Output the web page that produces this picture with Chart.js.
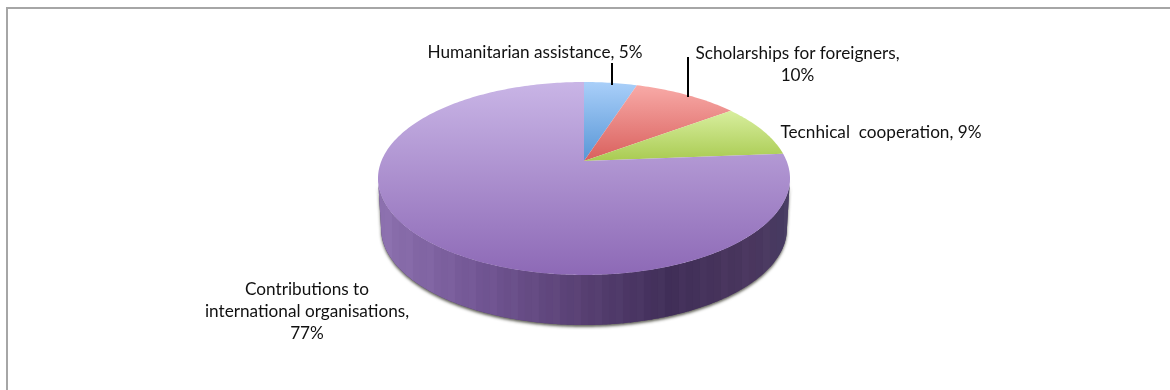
<!DOCTYPE html>
<html>
<head>
<meta charset="utf-8">
<style>
  html, body { margin: 0; padding: 0; background: #fff; overflow: hidden; }
  canvas { display: block; }
</style>
<script src="https://cdn.jsdelivr.net/npm/chart.js@4"></script>
</head>
<body>
<canvas id="c" width="1170" height="390"></canvas>
<script>
// Shares of development aid, percent
const categories = [
  'Humanitarian assistance',
  'Scholarships for foreigners',
  'Tecnhical  cooperation',
  'Contributions to international organisations'
];
const shares = [5, 10, 9, 77];
const sliceTop = ['#a9cff9', '#f8aaa7', '#d8ee9e', '#c9b5e6'];
const sliceBottom = ['#5896d6', '#d9605d', '#a9cb52', '#8d69b6'];
const labelLines = [
  ['Humanitarian assistance, 5%'],
  ['Scholarships for foreigners,', '10%'],
  ['Tecnhical  cooperation, 9%'],
  ['Contributions to', 'international organisations,', '77%']
];
const labelCentres = [[535, 52], [797.5, 53], [881, 132], [307, 289]];
const labelLineGap = 22;
const leaderLines = [[[612, 63], [612, 85]], [[688, 57], [688, 97]]];

// Tilted disc: projects a unit circle onto the page with mild perspective
const disc = { x: 584, apex: 161, spanX: 202.6, spanY: -64.13, persp: 0.1813, depth: 50, baseScale: 0.985 };
function project(angle) {
  const u = Math.cos(angle), v = -Math.sin(angle);
  const w = 1 + disc.persp * v;
  return [disc.x + disc.spanX * u / w, (disc.apex + disc.spanY * v) / w];
}
function projectBase(angle) {
  const p = project(angle);
  return [disc.x + (p[0] - disc.x) * disc.baseScale, p[1] + disc.depth];
}

function wallShade(t) {
  // t runs 0..1 from the left rim to the right rim of the wall
  const stops = [[0, [140, 112, 174]], [0.25, [112, 84, 146]], [0.5, [86, 62, 112]], [0.7, [64, 46, 88]], [0.9, [74, 54, 94]], [1, [70, 60, 98]]];
  for (let i = 1; i < stops.length; i++) {
    if (t <= stops[i][0]) {
      const k = (t - stops[i - 1][0]) / (stops[i][0] - stops[i - 1][0]);
      return stops[i - 1][1].map((c, j) => Math.round(c + (stops[i][1][j] - c) * k));
    }
  }
  return stops[stops.length - 1][1];
}

const tiltedPie = {
  id: 'tiltedPie',
  beforeDatasetsDraw(chart) {
    const ctx = chart.ctx;
    const arcs = chart.getDatasetMeta(0).data;
    const steps = 360;

    // visible wall: front half of the top rim, back along the base rim
    const from = Math.asin(disc.persp);
    const to = Math.PI - from;
    const wall = new Path2D();
    for (let i = 0; i <= steps; i++) {
      const p = project(from + (to - from) * i / steps);
      i ? wall.lineTo(p[0], p[1]) : wall.moveTo(p[0], p[1]);
    }
    for (let i = steps; i >= 0; i--) {
      const p = projectBase(from + (to - from) * i / steps);
      wall.lineTo(p[0], p[1]);
    }
    wall.closePath();

    const left = project(Math.PI - from)[0];
    const right = project(from)[0];

    // soft shadow cast by the wall
    ctx.save();
    ctx.shadowColor = 'rgba(60,60,50,0.8)';
    ctx.shadowBlur = 3;
    ctx.shadowOffsetX = 0;
    ctx.shadowOffsetY = 2;
    ctx.fillStyle = '#5a4a70';
    ctx.fill(wall);
    ctx.restore();

    // banded shading, in narrow vertical strips
    ctx.save();
    ctx.clip(wall);
    const strip = 7;
    for (let x = left; x < right; x += strip) {
      const c = wallShade((x - left) / (right - left));
      const bump = Math.floor(x / strip) % 3 === 0 ? 3 : 0;
      ctx.fillStyle = `rgb(${c[0] + bump},${c[1] + bump},${c[2] + bump})`;
      ctx.fillRect(x, 150, strip + 0.5, 190);
    }
    ctx.restore();

    // slices are painted from each arc's own angles
    arcs.forEach((arc, i) => {
      const { startAngle, endAngle } = arc.getProps(['startAngle', 'endAngle'], true);
      const n = Math.max(2, Math.ceil((endAngle - startAngle) / (2 * Math.PI) * steps));
      const pts = [[disc.x, disc.apex]];
      for (let k = 0; k <= n; k++) pts.push(project(startAngle + (endAngle - startAngle) * k / n));
      ctx.beginPath();
      pts.forEach((p, k) => { k ? ctx.lineTo(p[0], p[1]) : ctx.moveTo(p[0], p[1]); });
      ctx.closePath();
      const ys = pts.map(p => p[1]);
      const g = ctx.createLinearGradient(0, Math.min(...ys), 0, Math.max(...ys));
      g.addColorStop(0, sliceTop[i]);
      g.addColorStop(1, sliceBottom[i]);
      ctx.fillStyle = g;
      ctx.fill();
    });
    return false;
  },
  afterDraw(chart) {
    const ctx = chart.ctx;
    ctx.save();
    // chart frame, running off the page at the right and bottom
    ctx.strokeStyle = '#a6a6a6';
    ctx.lineWidth = 2;
    ctx.beginPath();
    ctx.moveTo(7, 390);
    ctx.lineTo(7, 8);
    ctx.lineTo(1170, 8);
    ctx.stroke();

    ctx.strokeStyle = '#000';
    ctx.lineWidth = 2;
    leaderLines.forEach(l => {
      ctx.beginPath();
      ctx.moveTo(l[0][0], l[0][1]);
      ctx.lineTo(l[1][0], l[1][1]);
      ctx.stroke();
    });

    ctx.fillStyle = '#111';
    ctx.font = '17.2px Lato, "Open Sans", sans-serif';
    ctx.textAlign = 'center';
    ctx.textBaseline = 'middle';
    labelLines.forEach((lines, i) => {
      lines.forEach((t, j) => ctx.fillText(t, labelCentres[i][0], labelCentres[i][1] + j * labelLineGap));
    });
    ctx.restore();
  }
};

new Chart(document.getElementById('c'), {
  type: 'pie',
  data: { labels: categories, datasets: [{ data: shares, backgroundColor: sliceTop, borderWidth: 0 }] },
  options: {
    responsive: false,
    animation: false,
    rotation: 0,
    plugins: { legend: { display: false }, tooltip: { enabled: false } },
    layout: { padding: 0 }
  },
  plugins: [tiltedPie]
});
</script>
</body>
</html>
